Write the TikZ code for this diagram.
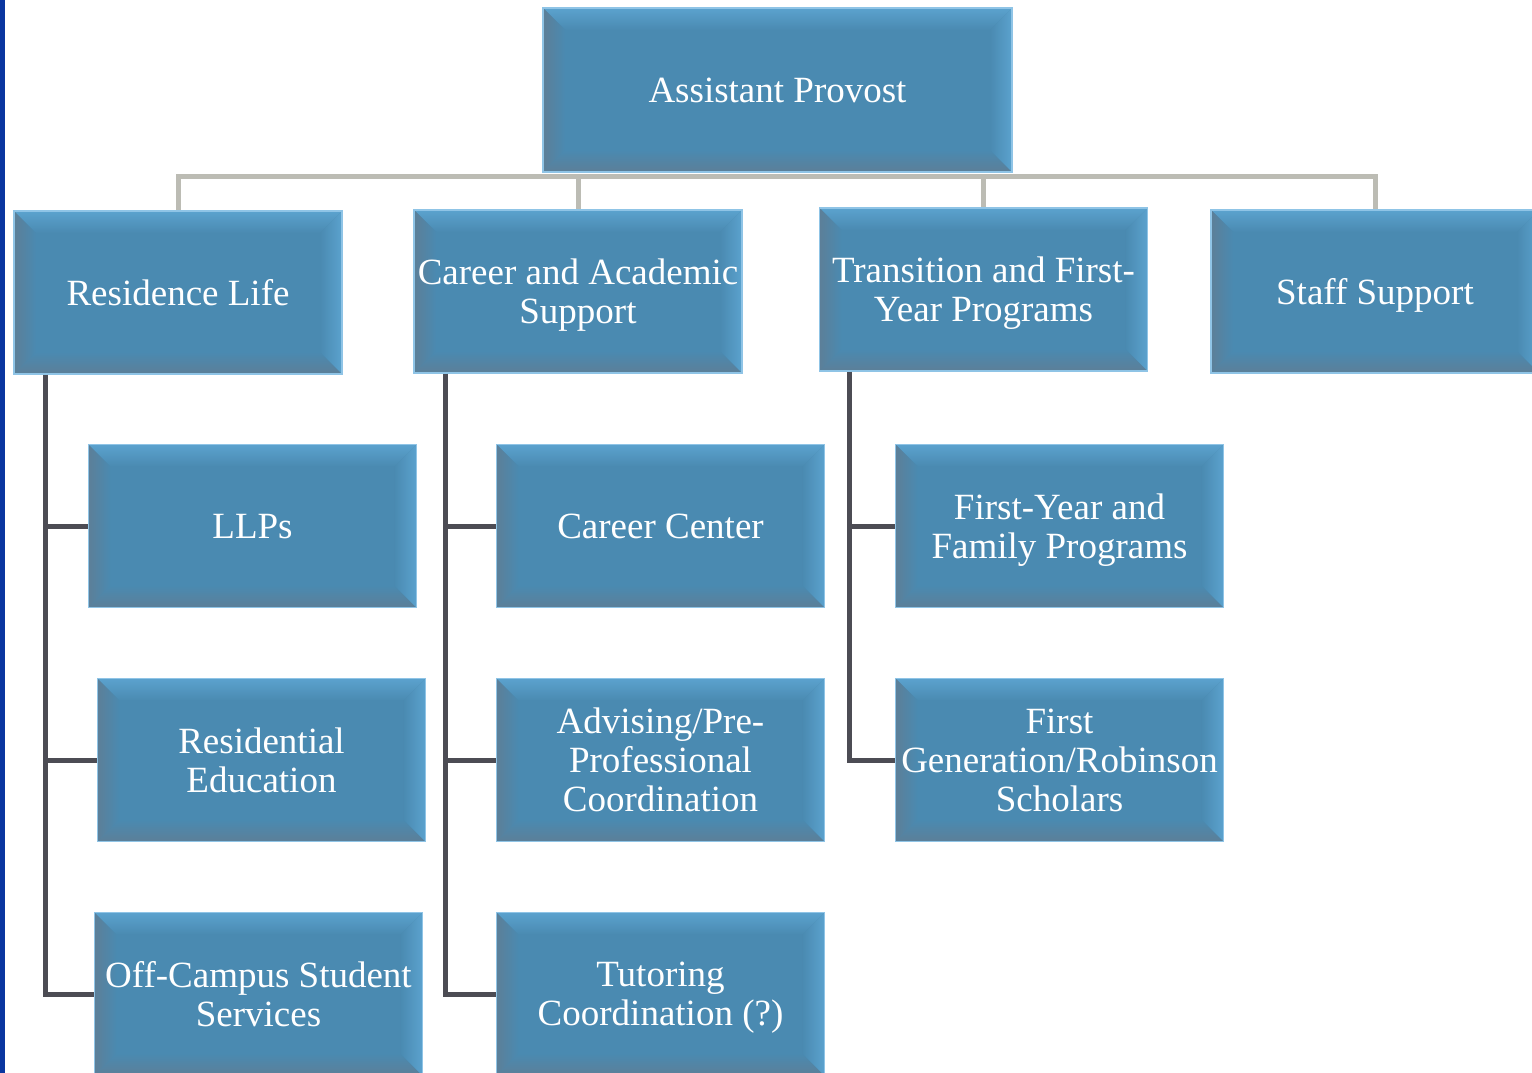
\documentclass[tikz,border=0pt]{standalone}
\usepackage{fontspec}
\setmainfont{Liberation Serif}
\usepackage{xcolor}
\usepackage{tikz}
\usetikzlibrary{calc}

\definecolor{boxmain}{HTML}{4A8AB1}
\definecolor{boxlite}{HTML}{5BA2CE}
\definecolor{boxdark}{HTML}{5C7F98}
\definecolor{boxrim}{HTML}{8FC4E6}
\definecolor{hubgray}{HTML}{BCBCB4}
\definecolor{stemgray}{HTML}{4C4C54}
\definecolor{edgeblue}{HTML}{0A36A0}

\begin{document}
\begin{tikzpicture}[x=1pt,y=-1pt]
        \tikzstyle{bevel} = [path picture={
                \coordinate (bnw) at (path picture bounding box.north west);
                \coordinate (bne) at (path picture bounding box.north east);
                \coordinate (bsw) at (path picture bounding box.south west);
                \coordinate (bse) at (path picture bounding box.south east);
                \shade[top color=boxlite, bottom color=boxmain] (bnw) -- (bne) -- ($(bne)+(-22pt,-22pt)$) -- ($(bnw)+(22pt,-22pt)$) -- cycle;
                \shade[left color=boxdark, right color=boxmain] (bnw) -- ($(bnw)+(22pt,-22pt)$) -- ($(bsw)+(22pt,22pt)$) -- (bsw) -- cycle;
                \shade[top color=boxmain, bottom color=boxdark] (bsw) -- ($(bsw)+(22pt,22pt)$) -- ($(bse)+(-22pt,22pt)$) -- (bse) -- cycle;
                \shade[left color=boxmain, right color=boxlite] (bse) -- ($(bse)+(-22pt,22pt)$) -- ($(bne)+(-22pt,-22pt)$) -- (bne) -- cycle;
        }]
        \tikzstyle{unit} = [rectangle, fill=boxmain, draw=boxrim, line width=1.5pt, bevel,
                minimum width=328pt, minimum height=163pt, inner sep=0pt, align=center,
                text depth=0pt, text=white, font=\fontsize{37}{39}\selectfont]
        \tikzstyle{hubline} = [draw=hubgray, line width=5pt]
        \tikzstyle{stem} = [draw=stemgray, line width=5pt]

        \clip (0,0) rectangle (1532,1073);
        \fill[edgeblue] (0,0) rectangle (4.5,1073);

        % top of the chart
        \node[unit, minimum width=469pt, minimum height=164pt] (prov) at (777.5,90) {Assistant Provost};

        % departments
        \node[unit] (res) at (178,292.5) {Residence Life};
        \node[unit] (cas) at (578,291.5) {Career and Academic\\Support};
        \node[unit] (tfy) at (983.5,289.5) {Transition and First-\\Year Programs};
        \node[unit] (staff) at (1375,291.5) {Staff Support};

        % units under the departments
        \node[unit] (llp) at (252.5,526) {LLPs};
        \node[unit] (rese) at (261.5,760) {Residential\\Education};
        \node[unit] (ocs) at (258.5,994) {Off-Campus Student\\Services};

        \node[unit] (cc) at (660.5,526) {Career Center};
        \node[unit] (adv) at (660.5,760) {Advising/Pre-\\Professional\\Coordination};
        \node[unit] (tut) at (660.5,994) {Tutoring\\Coordination (?)};

        \node[unit] (fyf) at (1059.5,526) {First-Year and\\Family Programs};
        \node[unit] (fgen) at (1059.5,760) {First\\Generation/Robinson\\Scholars};

        \coordinate (hub) at ($(prov.south)+(0,4)$);
        \foreach \d in {res,cas,tfy,staff}
        {
                \draw[hubline] (hub) -| (\d.north);
        }

        \coordinate (resroot) at ($(res.south west)+(32,0)$);
        \coordinate (casroot) at ($(cas.south west)+(32,0)$);
        \coordinate (tfyroot) at ($(tfy.south west)+(31,0)$);
        \foreach \c in {llp,rese,ocs}
                \draw[stem] (resroot) |- (\c.west);
        \foreach \c in {cc,adv,tut}
                \draw[stem] (casroot) |- (\c.west);
        \foreach \c in {fyf,fgen}
                \draw[stem] (tfyroot) |- (\c.west);
\end{tikzpicture}
\end{document}
